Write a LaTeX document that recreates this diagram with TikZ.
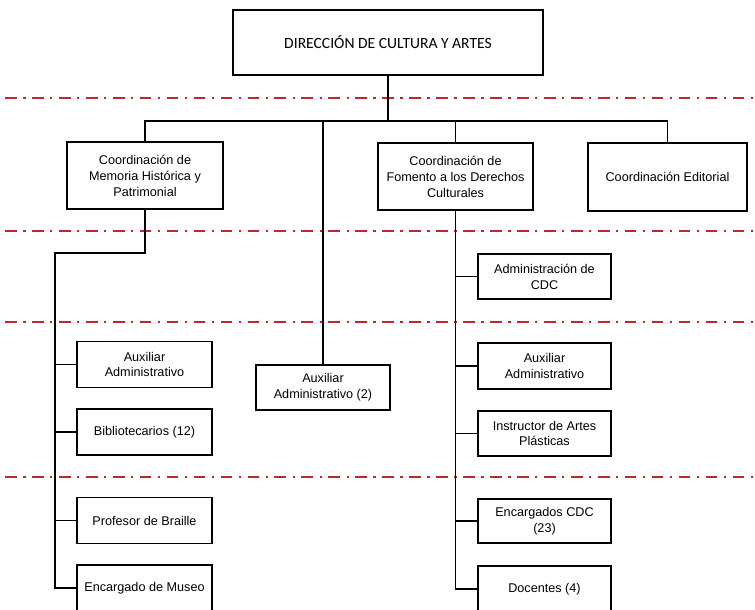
\documentclass[tikz,border=0pt]{standalone}
\usepackage{fontspec}
\setmainfont{Liberation Sans}
\newfontfamily\headfont{Carlito}
\usetikzlibrary{calc}
\newcommand{\px}{0.03cm}
\newcommand{\picw}{755}
\newcommand{\pich}{609}
\definecolor{sepred}{RGB}{190,40,40}
\tikzset{
  orgbox/.style={draw, line width=1.4pt, align=center, inner sep=2pt,
    font=\fontsize{10.8}{13.6}\selectfont},
  link/.style={line width=1.2pt},
  sepline/.style={draw=sepred, line width=1.4pt,
    dash pattern=on 10pt off 5.5pt on 2pt off 5.5pt},
}

\begin{document}
\begin{tikzpicture}[x=\px, y=-\px]
    \useasboundingbox (0,0) rectangle (\picw,\pich);
    %
    \foreach \sy in {98,231,322,477}
      \draw[sepline] (5,\sy) -- (\picw,\sy);

    \node[orgbox, minimum width=310*\px, minimum height=65*\px,
          font=\headfont\fontsize{13.3}{15}\selectfont] (dir) at (388,42.5)
        {DIRECCIÓN DE CULTURA Y ARTES};

    % second level
    \node[orgbox, minimum width=156*\px, minimum height=67*\px] (memoria) at (145,175.5)
        {Coordinación de\\ Memoria Histórica y\\ Patrimonial};
    \node[orgbox, minimum width=155*\px, minimum height=67*\px] (fomento) at (455.5,176.5)
        {Coordinación de\\ Fomento a los Derechos\\ Culturales};
    \node[orgbox, minimum width=159*\px, minimum height=68*\px] (editorial) at (667.5,177)
        {Coordinación Editorial};
    \node[orgbox, minimum width=134*\px, minimum height=45*\px] (aux2) at (323,387.5)
        {Auxiliar\\ Administrativo (2)};

    % left column
    \node[orgbox, minimum width=135*\px, minimum height=46*\px] (auxmem) at (144.5,364.5)
        {Auxiliar\\ Administrativo};
    \node[orgbox, minimum width=135*\px, minimum height=46*\px] (biblio) at (144.5,432)
        {Bibliotecarios (12)};
    \node[orgbox, minimum width=135*\px, minimum height=46*\px] (braille) at (144.5,520.5)
        {Profesor de Braille};
    \node[orgbox, minimum width=135*\px, minimum height=46*\px] (museo) at (144.5,588)
        {Encargado de Museo};

    % right column
    \node[orgbox, minimum width=133*\px, minimum height=45*\px] (admcdc) at (544.5,276.5)
        {Administración de\\ CDC};
    \node[orgbox, minimum width=133*\px, minimum height=46*\px] (auxfom) at (544.5,366)
        {Auxiliar\\ Administrativo};
    \node[orgbox, minimum width=133*\px, minimum height=45*\px] (instr) at (544.5,433.5)
        {Instructor de Artes\\ Plásticas};
    \node[orgbox, minimum width=133*\px, minimum height=44*\px] (encarg) at (544.5,521)
        {Encargados CDC\\ (23)};
    \node[orgbox, minimum width=133*\px, minimum height=46*\px] (docentes) at (544.5,589)
        {Docentes (4)};

    % connectors
    \coordinate (bar) at (0,121);
    \coordinate (lbend) at (145,253);
    \coordinate (lspine) at (55,253);

    \draw[link] (dir.south) -- (dir.south |- bar);
    \draw[link] (memoria.north) -- (memoria.north |- bar)
        -- (editorial.north |- bar) -- (editorial.north);
    \draw[link] (fomento.north) -- (fomento.north |- bar);
    \draw[link] (aux2.north) -- (aux2.north |- bar);

    \draw[link] (memoria.south) -- (lbend) -- (lspine)
        -- (lspine |- museo.west) -- (museo.west);
    \foreach \n in {auxmem,biblio,braille}
      \draw[link] (\n.west) -- (\n.west -| lspine);

    \draw[link] (fomento.south) -- (fomento.south |- docentes.west) -- (docentes.west);
    \foreach \n in {admcdc,auxfom,instr,encarg}
      \draw[link] (\n.west) -- (\n.west -| fomento.south);

  \end{tikzpicture}
\end{document}
